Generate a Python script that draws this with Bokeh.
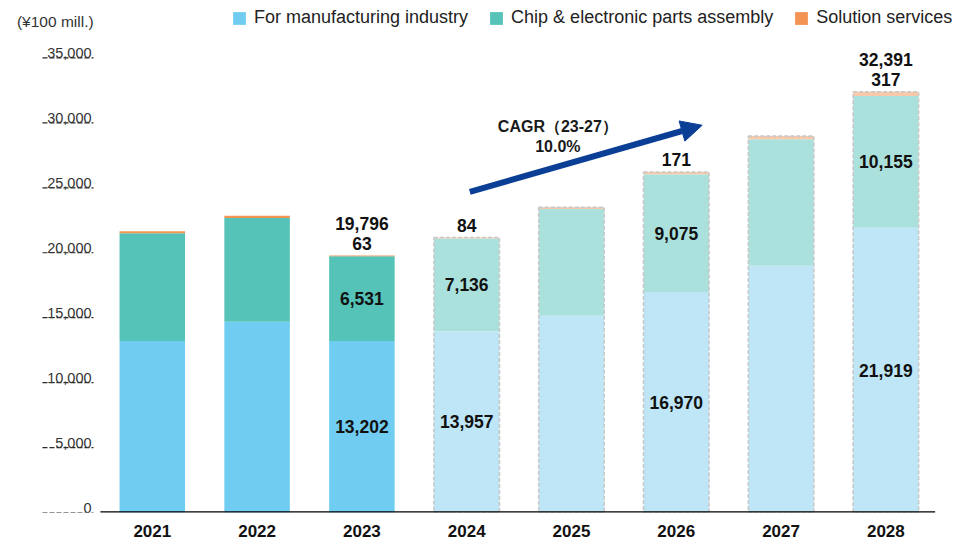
import numpy as np
from bokeh.plotting import figure
from bokeh.models import (ColumnDataSource, Range1d, FixedTicker, Legend, LegendItem,
                          Arrow, NormalHead)
from bokeh.core.properties import value
from bokeh.embed import file_html
from bokeh.resources import INLINE

# ---------------- data ----------------
years = ["2021", "2022", "2023", "2024", "2025", "2026", "2027", "2028"]
mfg = [13200, 14680, 13202, 13957, 15140, 16970, 19000, 21919]
chip = [8290, 7990, 6531, 7136, 8230, 9075, 9740, 10155]
sol = [170, 175, 63, 84, 130, 171, 240, 317]
forecast = [False, False, False, True, True, True, True, True]
segment_label_years = ["2023", "2024", "2026", "2028"]
total_label_years = ["2023", "2028"]
series_names = ["For manufacturing industry", "Chip & electronic parts assembly", "Solution services"]
y_ticks = [0, 5000, 10000, 15000, 20000, 25000, 30000, 35000]
y_tick_labels = ["0", "5,000", "10,000", "15,000", "20,000", "25,000", "30,000", "35,000"]
unit_label = "(¥100 mill.)"
cagr_title = "CAGR（23-27）"
cagr_value = "10.0%"

# ---------------- styles ----------------
actual_colors = ["#70CDF1", "#55C3B8", "#F39455"]
forecast_colors = ["#BEE6F6", "#ABE1DD", "#F8C9A8"]
arrow_color = "#0B3F96"
FONT = value("Liberation Sans")
W, H = 958, 539
BAR_W = 0.625
Y_TOP = 39419

x = np.arange(len(years), dtype=float)
mfg_a = np.array(mfg, dtype=float)
chip_a = np.array(chip, dtype=float)
sol_a = np.array(sol, dtype=float)
mfg_top = mfg_a
chip_top = mfg_a + chip_a
total = chip_top + sol_a
fc = np.array(forecast)

src = ColumnDataSource(dict(
    x=x, zero=np.zeros_like(x), mfg_top=mfg_top, chip_top=chip_top, total=total,
    c_mfg=[forecast_colors[0] if f else actual_colors[0] for f in forecast],
    c_chip=[forecast_colors[1] if f else actual_colors[1] for f in forecast],
    c_sol=[forecast_colors[2] if f else actual_colors[2] for f in forecast],
))

p = figure(width=W, height=H, output_backend="svg", toolbar_location=None,
           x_range=Range1d(-1.4485, 7.693), y_range=Range1d(0, Y_TOP),
           y_axis_location=None, min_border_left=0, min_border_right=0,
           min_border_top=0, min_border_bottom=0)
p.outline_line_color = None
p.grid.visible = False
p.background_fill_color = "white"

r_mfg = p.vbar(x="x", width=BAR_W, bottom="zero", top="mfg_top", fill_color="c_mfg",
               line_color=None, source=src)
r_chip = p.vbar(x="x", width=BAR_W, bottom="mfg_top", top="chip_top", fill_color="c_chip",
                line_color=None, source=src)
r_sol = p.vbar(x="x", width=BAR_W, bottom="chip_top", top="total", fill_color="c_sol",
               line_color=None, source=src)

# dashed outline on forecast bars
fsrc = ColumnDataSource(dict(x=x[fc], total=total[fc]))
p.vbar(x="x", width=BAR_W, bottom=0, top="total", fill_color=None, line_color="#C8C8C8",
       line_width=1.6, line_dash="4 2", source=fsrc)

# baseline
p.segment(x0=[-0.495], x1=[7.47], y0=[0], y1=[0], line_color="black", line_width=2.5)

# y tick dashes and labels
p.segment(x0=[-1.048] * len(y_ticks), x1=[-0.561] * len(y_ticks), y0=y_ticks, y1=y_ticks,
          line_color="#2a2a2a", line_width=1.2, line_dash="5 2")
p.text(x=[-0.58] * len(y_ticks), y=y_ticks, text=y_tick_labels, text_align="right",
       text_baseline="alphabetic", y_offset=-5, text_font=FONT, text_font_size="14.5px",
       text_color="#333333")
p.text(x=[-0.56], y=[Y_TOP], text=[unit_label], text_align="right", text_baseline="top",
       y_offset=12, text_font=FONT, text_font_size="15.5px", text_color="#333333")

# value labels
seg_idx = [years.index(yv) for yv in segment_label_years]
lx, ly, lt = [], [], []
for i in seg_idx:
    lx += [x[i], x[i]]
    ly += [mfg_top[i] / 2, (mfg_top[i] + chip_top[i]) / 2]
    lt += [f"{mfg[i]:,}", f"{chip[i]:,}"]
p.text(x=lx, y=ly, text=lt, text_align="center", text_baseline="middle", text_font=FONT,
       text_font_style="bold", text_font_size="17.5px", text_color="#111111")
p.text(x=[x[i] for i in seg_idx], y=[total[i] for i in seg_idx],
       text=[f"{sol[i]:,}" for i in seg_idx], text_align="center", text_baseline="middle",
       y_offset=-12, text_font=FONT, text_font_style="bold", text_font_size="17.5px",
       text_color="#111111")
tot_idx = [years.index(yv) for yv in total_label_years]
p.text(x=[x[i] for i in tot_idx], y=[total[i] for i in tot_idx],
       text=[f"{int(total[i]):,}" for i in tot_idx], text_align="center",
       text_baseline="middle", y_offset=-32, text_font=FONT, text_font_style="bold",
       text_font_size="17.5px", text_color="#111111")

# CAGR arrow & text
p.add_layout(Arrow(end=NormalHead(size=21, fill_color=arrow_color, line_color=arrow_color),
                   x_start=3.03, y_start=24689, x_end=5.247, y_end=29814,
                   line_color=arrow_color, line_width=6))
p.text(x=[3.87, 3.87], y=[29940, 29940], text=[cagr_title, cagr_value], text_align="center",
       text_baseline="middle", y_offset=[3, 23], text_font=FONT, text_font_style="bold",
       text_font_size="16px", text_color="#1a1a1a")

# x axis
p.xaxis.ticker = FixedTicker(ticks=list(x))
p.xaxis.major_label_overrides = {int(i): yv for i, yv in enumerate(years)}
p.xaxis.axis_line_color = None
p.xaxis.major_tick_line_color = None
p.xaxis.minor_tick_line_color = None
p.xaxis.major_label_standoff = 6
p.xaxis.major_label_text_font = "Liberation Sans"
p.xaxis.major_label_text_font_style = "bold"
p.xaxis.major_label_text_font_size = "17px"
p.xaxis.major_label_text_color = "#111111"

# legend
legend = Legend(items=[LegendItem(label=series_names[0], renderers=[r_mfg], index=0),
                       LegendItem(label=series_names[1], renderers=[r_chip], index=0),
                       LegendItem(label=series_names[2], renderers=[r_sol], index=0)],
                orientation="horizontal", location=(231, 484), glyph_width=16,
                glyph_height=16, label_standoff=7, spacing=20, padding=0, margin=0,
                border_line_color=None, background_fill_alpha=0,
                label_text_font="Liberation Sans", label_text_font_size="18px",
                label_text_color="#222222")
p.add_layout(legend)

open("out.html", "w").write(file_html(p, INLINE))
